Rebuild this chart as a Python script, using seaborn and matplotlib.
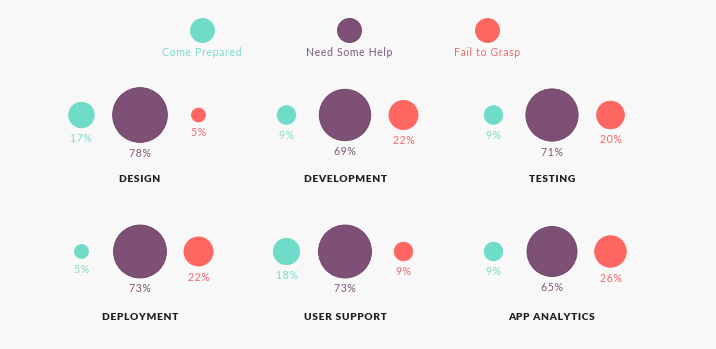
import matplotlib
matplotlib.use("Agg")
import matplotlib.pyplot as plt
import seaborn as sns
import pandas as pd
import numpy as np

# ---- data -------------------------------------------------------------
categories = ["DESIGN", "DEVELOPMENT", "TESTING",
              "DEPLOYMENT", "USER SUPPORT", "APP ANALYTICS"]
series = ["Come Prepared", "Need Some Help", "Fail to Grasp"]
come_prepared = [17, 9, 9, 5, 18, 9]
need_some_help = [78, 69, 71, 73, 73, 65]
fail_to_grasp = [5, 22, 20, 22, 9, 26]

# ---- styling ------------------------------------------------------------
circle_colors = {"Come Prepared": "#6fdbc9",
                 "Need Some Help": "#7f5075",
                 "Fail to Grasp": "#fe6761"}
edge_colors = {"Come Prepared": "#6fdbc9",
               "Need Some Help": "#6e3f64",
               "Fail to Grasp": "#fe6761"}
label_colors = {"Come Prepared": "#7ddccd",
                "Need Some Help": "#7d5877",
                "Fail to Grasp": "#f0696a"}
title_color = "#231f20"
bg = "#f8f8f8"

# layout in pixel units
W, H, DPI = 716, 349, 100
col_x = [140, 345, 552]
row_y = [115, 251.5]
title_y = [181.5, 320.5]
offsets = [-58.5, 0, 58.5]
legend_x = [202, 349, 487]
legend_y = 30
legend_label_y = 55.5
legend_diam = 24
px_per_sqrt = 6.2          # circle diameter (px) per sqrt(percent)
label_gap = 14.5           # circle bottom -> label baseline (px)


def spaced(s):
    """Open up the tracking by putting hair spaces between glyphs."""
    return "\u200a".join(s)


sns.set_theme(style="white")
plt.rcParams["font.family"] = ["Lato", "DejaVu Sans"]

rows = []
for i, cat in enumerate(categories):
    cx, cy = col_x[i % 3], row_y[i // 3]
    for j, (name, vals) in enumerate(zip(series, [come_prepared, need_some_help, fail_to_grasp])):
        rows.append(dict(category=cat, series=name, value=vals[i],
                         x=cx + offsets[j], y=cy))
df = pd.DataFrame(rows)

fig = plt.figure(figsize=(W / DPI, H / DPI), dpi=DPI, facecolor=bg)
ax = fig.add_axes([0, 0, 1, 1])
ax.set_facecolor(bg)
ax.set_xlim(0, W)
ax.set_ylim(H, 0)
ax.set_axis_off()

pt_per_px = 72 / DPI
area_per_pct = (px_per_sqrt * pt_per_px) ** 2

sns.scatterplot(data=df, x="x", y="y", hue="series", palette=circle_colors,
                size="value", sizes=(0, 100 * area_per_pct), size_norm=(0, 100),
                edgecolor=[edge_colors[s] for s in df["series"]], linewidth=0.6,
                legend=False, ax=ax, zorder=3)

# value labels under each circle
for _, r in df.iterrows():
    radius = px_per_sqrt * np.sqrt(r["value"]) / 2
    ax.text(r["x"], r["y"] + radius + label_gap, spaced(f"{r['value']}%"),
            ha="center", va="baseline", fontsize=7.6,
            color=label_colors[r["series"]])

# category titles
for i, cat in enumerate(categories):
    ax.text(col_x[i % 3], title_y[i // 3], spaced(cat),
            ha="center", va="baseline", fontsize=7.4, fontweight="heavy",
            color=title_color)

# legend row
for name, lx in zip(series, legend_x):
    ax.scatter([lx], [legend_y], s=(legend_diam * pt_per_px) ** 2,
               color=circle_colors[name], edgecolor=edge_colors[name],
               linewidth=0.6, zorder=3)
    ax.text(lx, legend_label_y, spaced(name), ha="center", va="baseline",
            fontsize=7.6, color=label_colors[name])

fig.savefig("out.png", dpi=DPI, facecolor=bg)
